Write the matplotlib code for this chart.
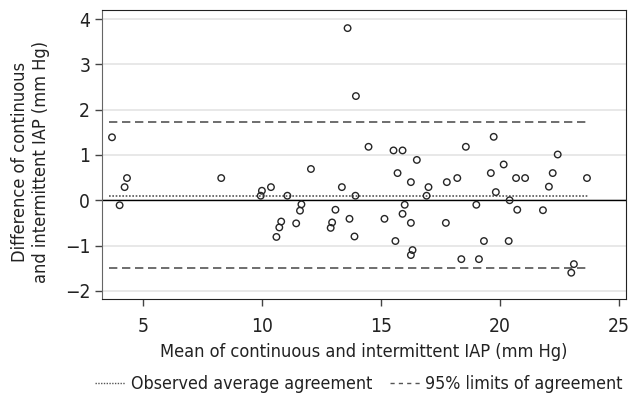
import matplotlib
matplotlib.use("Agg")
import matplotlib.pyplot as plt
from matplotlib import font_manager
import numpy as np

# pick a condensed sans face if one is installed, else a narrow-ish sans
fam, stretch = None, 'normal'
for f in font_manager.fontManager.ttflist:
    st = str(f.stretch)
    if (st in ('condensed', 'semi-condensed', 'extra-condensed') or 'Narrow' in f.name
            or 'Condensed' in f.name) and f.style == 'normal' and f.weight in (400, 'normal', 'regular'):
        fam, stretch = f.name, st
        break
if fam is None:
    fam = 'Lato'
plt.rcParams['font.family'] = [fam, 'DejaVu Sans']
plt.rcParams['font.stretch'] = stretch

mean_iap = [3.70, 4.02, 4.23, 4.33, 8.29, 9.95, 10.0, 10.38, 10.61, 10.73, 10.81, 11.07,
            11.44, 11.60, 11.66, 12.06, 12.89, 12.95, 13.09, 13.36, 13.60, 13.68, 13.89,
            13.93, 13.95, 14.48, 15.15, 15.53, 15.61, 15.70, 15.91, 15.91, 16.00, 16.26,
            16.26, 16.33, 16.26, 16.51, 16.92, 17.00, 17.73, 17.77, 18.21, 18.38, 18.57,
            19.01, 19.12, 19.33, 19.62, 19.74, 19.83, 20.16, 20.37, 20.41, 20.68, 20.73,
            21.06, 21.81, 22.06, 22.22, 22.43, 23.00, 23.11, 23.66]
diff_iap = [1.39, -0.11, 0.29, 0.49, 0.49, 0.10, 0.21, 0.29, -0.81, -0.60, -0.47, 0.10,
            -0.51, -0.23, -0.09, 0.69, -0.61, -0.49, -0.21, 0.29, 3.80, -0.41, -0.80,
            0.10, 2.30, 1.18, -0.41, 1.10, -0.90, 0.60, 1.10, -0.30, -0.10, 0.40,
            -0.50, -1.10, -1.21, 0.89, 0.10, 0.29, -0.50, 0.40, 0.49, -1.30, 1.18,
            -0.10, -1.30, -0.90, 0.60, 1.40, 0.18, 0.79, -0.90, 0.00, 0.49, -0.21,
            0.49, -0.22, 0.30, 0.60, 1.01, -1.60, -1.41, 0.49]
mean_diff = 0.10
upper_loa = 1.72
lower_loa = -1.50
x_ticks = [5, 10, 15, 20, 25]
y_ticks = [-2, -1, 0, 1, 2, 3, 4]
y_ticklabels = ['\u22122', '\u22121', '0', '1', '2', '3', '4']
x_label = 'Mean of continuous and intermittent IAP (mm Hg)'
y_label = 'Difference of continuous\nand intermittent IAP (mm Hg)'
legend_labels = ['Observed average agreement', '95% limits of agreement']

fig = plt.figure(figsize=(6.34, 4.07), dpi=100)
renderer = fig.canvas.get_renderer()


def size_for_width(text, target_px, ref=12.0):
    t = fig.text(0, 0, text, fontsize=ref)
    w = t.get_window_extent(renderer).width
    t.remove()
    return ref * target_px / w


fs_label = size_for_width(x_label, 407)
fs_tick = size_for_width('10', 22)
fs_leg = size_for_width(legend_labels[0], 240)

ax = fig.add_axes([102/634, 1-299/407, (626-102)/634, (299-10)/407])

x = np.array(mean_iap)
y = np.array(diff_iap)
for yy in y_ticks:
    ax.axhline(yy, color='#e2e2e2', lw=1.1, zorder=0)
ax.axhline(0, color='black', lw=1.0, zorder=1)
x0, x1 = x.min() - 0.12, x.max() + 0.05
ax.plot([x0, x1], [mean_diff]*2, color='#555555', lw=1.2, ls=(0, (1, 1)), zorder=2)
ax.plot([x0, x1], [upper_loa]*2, color='#555555', lw=1.2, ls=(0, (5, 2.8)), zorder=2)
ax.plot([x0, x1], [lower_loa]*2, color='#555555', lw=1.2, ls=(0, (5, 2.8)), zorder=2)
ax.scatter(x, y, s=22, facecolors='none', edgecolors='#262626', linewidths=1.0, zorder=3)

ax.set_xlim(3.28, 25.3)
ax.set_ylim(-2.18, 4.2)
ax.set_xticks(x_ticks)
ax.set_yticks(y_ticks)
ax.set_yticklabels(y_ticklabels)
ax.tick_params(axis='both', labelsize=fs_tick, length=5, color='#444444', width=1,
               labelcolor='#222222')
ax.tick_params(axis='x', pad=8)
for s in ax.spines.values():
    s.set_color('#222222')
ax.spines['left'].set_color('#666666')
ax.set_xlabel(x_label, fontsize=fs_label, labelpad=5, color='#222222')
ax.set_ylabel(y_label, fontsize=fs_label, color='#222222')
ax.yaxis.set_label_coords((50-102)/524, (299-162)/289)

h1, = ax.plot([], [], color='#555555', lw=1.0, ls=(0, (1, 1)))
h2, = ax.plot([], [], color='#555555', lw=1.0, ls=(0, (3, 3)))
fig.legend([h1, h2], legend_labels,
           loc='center', bbox_to_anchor=(359/634, 1-384/407), ncol=2, frameon=False,
           fontsize=fs_leg, handlelength=1.7, handletextpad=0.3, columnspacing=1.0,
           labelcolor='#222222')

fig.savefig('out.png', dpi=100)
